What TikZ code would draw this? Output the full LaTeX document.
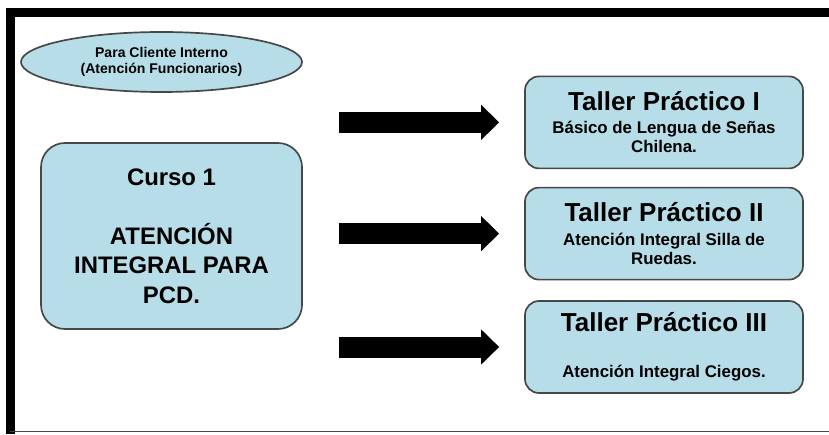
\documentclass[tikz,border=0pt]{standalone}
\usepackage{fontspec}
\setmainfont{Liberation Sans}
\usetikzlibrary{arrows.meta,shapes.geometric}
\definecolor{cajafill}{HTML}{B7DEE8}
\definecolor{cajaline}{HTML}{474747}
\newcommand{\titulo}[1]{{\fontsize{18.5}{21}\selectfont #1}}

\begin{document}
\begin{tikzpicture}[every node/.style={font=\bfseries, align=center},
	box/.style={draw=cajaline, line width=1.2pt, fill=cajafill, rounded corners=0.35cm, minimum width=6.95cm, minimum height=2.3cm, inner sep=0pt, font=\bfseries\fontsize{12}{13.5}\selectfont},
	bigarrow/.style={line width=0.525cm, -{Triangle[length=0.45cm, width=0.85cm]}, shorten <=0.9cm, shorten >=0.625cm}]
	\useasboundingbox (0,0) rectangle (20.725,10.85);
	\draw[line width=0.225cm] (0.2625,0) -- (0.2625,10.5375) -- (20.725,10.5375);
	\draw[cajaline, line width=0.04cm] (0.2625,0.0625) -- (20.725,0.0625);
	\node[ellipse, draw=cajaline, line width=1.2pt, fill=cajafill, minimum width=7.025cm, minimum height=1.5cm, inner sep=0pt, font=\bfseries\fontsize{10}{11.5}\selectfont] (cliente) at (4.0375,9.3) {Para Cliente Interno\\(Atención Funcionarios)};
	\node[box, minimum width=6.525cm, minimum height=4.65cm, rounded corners=0.6cm, font=\bfseries\fontsize{17}{21}\selectfont] (curso) at (4.2875,4.95) {Curso 1\\[21pt]ATENCIÓN\\INTEGRAL PARA\\PCD.};
	\node[box] (t1) at (16.6,7.79) {\titulo{Taller Práctico I}\\[3pt]Básico de Lengua de Señas\\Chilena.};
	\node[box] (t2) at (16.6,5.01) {\titulo{Taller Práctico II}\\[3pt]Atención Integral Silla de\\Ruedas.};
	\node[box] (t3) at (16.6,2.175) {\titulo{Taller Práctico III}\\[19pt]Atención Integral Ciegos.};
	\draw[bigarrow] (curso.east |- t1) -- (t1.west);
	\draw[bigarrow] (curso.east |- t2) -- (t2.west);
	\draw[bigarrow] (curso.east |- t3) -- (t3.west);
\end{tikzpicture}
\end{document}
